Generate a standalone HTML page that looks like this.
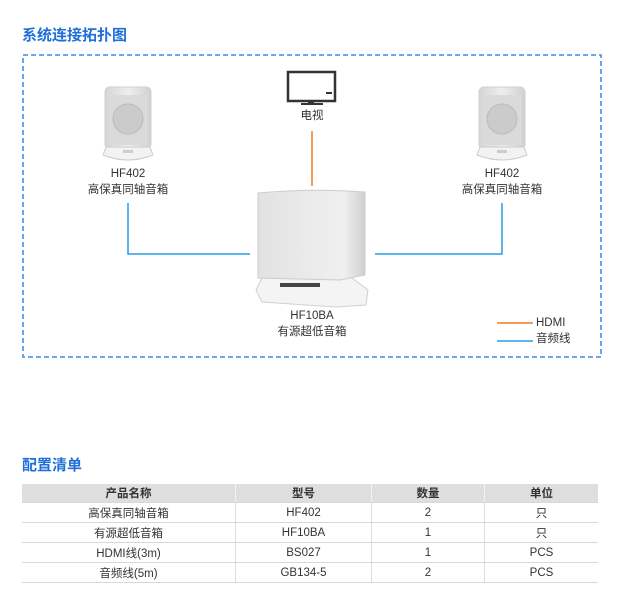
<!DOCTYPE html>
<html><head><meta charset="utf-8">
<style>
body{margin:0;width:618px;height:614px;background:#fff;font-family:"Liberation Sans","Noto Sans CJK SC",sans-serif;position:relative;overflow:hidden}
.t{position:absolute;font-weight:bold;color:#1f6fd8;font-size:15px}
.l{position:absolute;font-size:11.5px;color:#333;text-align:center;line-height:16px}
table{position:absolute;left:22px;top:484px;width:576px;border-collapse:collapse;font-size:11.5px;color:#333}
td,th{text-align:center;height:19px;padding:0;border-left:1px solid #ddd;border-bottom:1.5px solid #d8d8d8}
td:first-child,th:first-child{border-left:none}
th{background:#dedede;font-weight:bold;height:18px;border-left:1px solid #f4f4f4}
</style></head><body>
<div class="t" style="left:22px;top:24px">系统连接拓扑图</div>
<svg width="618" height="614" style="position:absolute;left:0;top:0">
<defs>
<linearGradient id="g1" x1="0" x2="1"><stop offset="0" stop-color="#d4d4d4"/><stop offset=".5" stop-color="#eee"/><stop offset="1" stop-color="#d0d0d0"/></linearGradient>
<linearGradient id="g2" x1="0" x2="1"><stop offset="0" stop-color="#e2e2e2"/><stop offset=".8" stop-color="#f0f0f0"/><stop offset="1" stop-color="#cfcfcf"/></linearGradient>
<g id="spk">
<rect x="2" y="0" width="46" height="62" rx="5" fill="url(#g1)" stroke="#d0d0d0"/>
<rect x="5" y="8" width="40" height="50" fill="#dadada"/>
<circle cx="25" cy="32" r="15" fill="#cbcbcb" stroke="#bbb"/>
<path d="M3 60 L47 60 L50 68 Q25 78 0 68 Z" fill="#f2f2f2" stroke="#ccc"/>
<rect x="20" y="63" width="10" height="3" fill="#ccc"/>
</g>
</defs>
<rect x="23" y="55" width="578" height="302" fill="none" stroke="#3b8be0" stroke-width="1.5" stroke-dasharray="5,3"/>
<rect x="288" y="72" width="47" height="29" fill="none" stroke="#333" stroke-width="2.5"/>
<rect x="326" y="92" width="6" height="2" fill="#333"/>
<rect x="308" y="101" width="6" height="3" fill="#333"/>
<rect x="301" y="103" width="22" height="2" fill="#333"/>
<line x1="312" y1="131" x2="312" y2="186" stroke="#f07a20" stroke-width="1.5"/>
<polyline points="128,203 128,254 250,254" fill="none" stroke="#2a9be8" stroke-width="1.5"/>
<polyline points="375,254 502,254 502,203" fill="none" stroke="#2a9be8" stroke-width="1.5"/>
<line x1="497" y1="323" x2="533" y2="323" stroke="#f07a20" stroke-width="1.5"/>
<line x1="497" y1="341" x2="533" y2="341" stroke="#2a9be8" stroke-width="1.5"/>
<use href="#spk" x="103" y="87"/>
<use href="#spk" x="477" y="87"/>
<path d="M262 278 L352 278 L368 290 L366 305 L336 307 L262 302 L256 290 Z" fill="#f4f4f4" stroke="#d0d0d0"/>
<rect x="280" y="283" width="40" height="4" fill="#444"/>
<path d="M258 193 Q310 188 365 192 L365 275 L340 280 L258 278 Z" fill="url(#g2)" stroke="#ccc"/>
</svg>
<div class="l" style="left:280px;top:108px;width:64px">电视</div>
<div class="l" style="left:78px;top:166px;width:100px">HF402<br>高保真同轴音箱</div>
<div class="l" style="left:452px;top:166px;width:100px">HF402<br>高保真同轴音箱</div>
<div class="l" style="left:262px;top:308px;width:100px">HF10BA<br>有源超低音箱</div>
<div class="l" style="left:536px;top:315px;text-align:left">HDMI<br>音频线</div>
<div class="t" style="left:22px;top:454px">配置清单</div>
<table>
<tr><th style="width:213px">产品名称</th><th style="width:135px">型号</th><th style="width:112px">数量</th><th>单位</th></tr>
<tr><td>高保真同轴音箱</td><td>HF402</td><td>2</td><td>只</td></tr>
<tr><td>有源超低音箱</td><td>HF10BA</td><td>1</td><td>只</td></tr>
<tr><td>HDMI线(3m)</td><td>BS027</td><td>1</td><td>PCS</td></tr>
<tr><td>音频线(5m)</td><td>GB134-5</td><td>2</td><td>PCS</td></tr>
</table>
</body></html>
